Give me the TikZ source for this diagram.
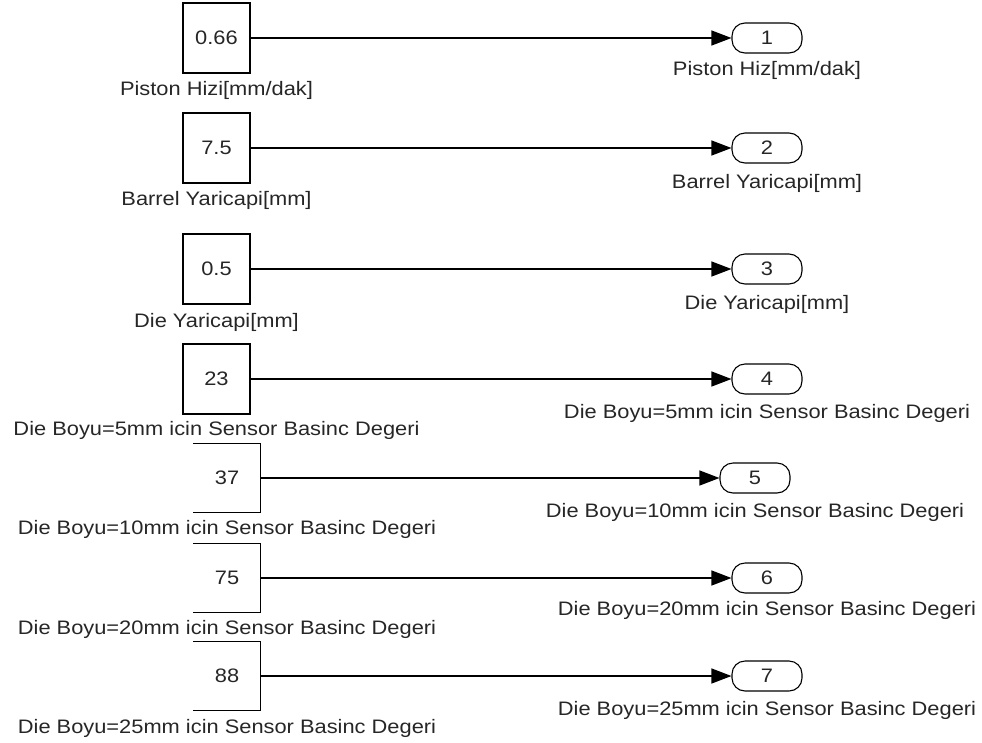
\documentclass[tikz,border=0pt]{standalone}
\usepackage{fontspec}
\setmainfont{Liberation Sans}[FakeStretch=1.12]
\usepackage{tikz}
\usetikzlibrary{arrows.meta, positioning}

\begin{document}
\begin{tikzpicture}[
    x=1pt, y=-1pt,
    node distance=8pt,
    txt/.style={font=\fontsize{19.5}{22}\selectfont, text=black!85},
    const/.style={txt, draw, line width=1.2pt, minimum width=67pt, minimum height=70pt, inner sep=0pt},
    openconst/.style={txt, minimum width=67pt, minimum height=69pt, inner sep=0pt},
    outport/.style={txt, draw, line width=1.1pt, rounded corners=13pt, minimum width=70pt,
        minimum height=30pt, inner sep=0pt},
    lbl/.style={txt, inner sep=0pt, text height=14pt, text depth=4pt, anchor=north},
    sig/.style={-{Triangle[length=20pt, width=15pt]}, line width=1.2pt}
]
\useasboundingbox (0,0) rectangle (982,742);
% constant blocks
\node[const] (c1) at (216.5,38) {0.66};
\node[const] (c2) at (216.5,148) {7.5};
\node[const] (c3) at (216.5,269) {0.5};
\node[const] (c4) at (216.5,379) {23};
\node[openconst] (c5) at (227,478) {37};
\node[openconst] (c6) at (227,578) {75};
\node[openconst] (c7) at (227,676) {88};
\draw[line width=1.2pt] (c5.north west) -- (c5.north east) -- (c5.south east) -- (c5.south west);
\draw[line width=1.2pt] (c6.north west) -- (c6.north east) -- (c6.south east) -- (c6.south west);
\draw[line width=1.2pt] (c7.north west) -- (c7.north east) -- (c7.south east) -- (c7.south west);
\node[lbl, below=of c1] (lc1) {Piston Hizi[mm/dak]};
\node[lbl, below=of c2] (lc2) {Barrel Yaricapi[mm]};
\node[lbl, below=9pt of c3] (lc3) {Die Yaricapi[mm]};
\node[lbl, below=7pt of c4] (lc4) {Die Boyu=5mm icin Sensor Basinc Degeri};
\node[lbl, below=of c5] (lc5) {Die Boyu=10mm icin Sensor Basinc Degeri};
\node[lbl, below=of c6] (lc6) {Die Boyu=20mm icin Sensor Basinc Degeri};
\node[lbl, below=9pt of c7] (lc7) {Die Boyu=25mm icin Sensor Basinc Degeri};
% outports
\node[outport] (o1) at (767,38) {1};
\node[outport] (o2) at (767,148) {2};
\node[outport] (o3) at (767,269) {3};
\node[outport] (o4) at (767,379) {4};
\node[outport] (o5) at (755,478) {5};
\node[outport] (o6) at (767,578) {6};
\node[outport] (o7) at (767,676) {7};
\node[lbl, below=of o1] (lo1) {Piston Hiz[mm/dak]};
\node[lbl, below=11pt of o2] (lo2) {Barrel Yaricapi[mm]};
\node[lbl, below=11pt of o3] (lo3) {Die Yaricapi[mm]};
\node[lbl, below=10pt of o4] (lo4) {Die Boyu=5mm icin Sensor Basinc Degeri};
\node[lbl, below=10pt of o5] (lo5) {Die Boyu=10mm icin Sensor Basinc Degeri};
\node[lbl, below=of o6] (lo6) {Die Boyu=20mm icin Sensor Basinc Degeri};
\node[lbl, below=10pt of o7] (lo7) {Die Boyu=25mm icin Sensor Basinc Degeri};
% signals
\draw[sig] (c1.east) -- (o1.west);
\draw[sig] (c2.east) -- (o2.west);
\draw[sig] (c3.east) -- (o3.west);
\draw[sig] (c4.east) -- (o4.west);
\draw[sig] (c5.east) -- (o5.west);
\draw[sig] (c6.east) -- (o6.west);
\draw[sig] (c7.east) -- (o7.west);
\end{tikzpicture}
\end{document}
